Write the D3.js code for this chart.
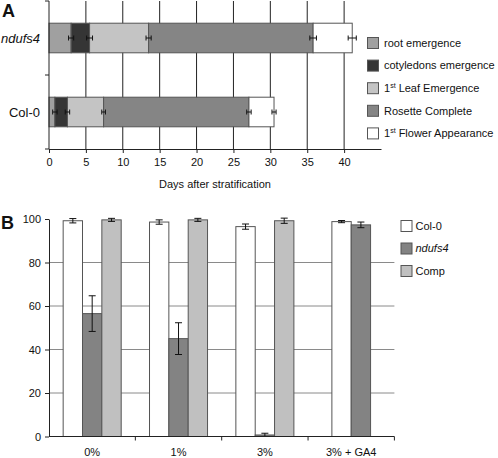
<!DOCTYPE html>
<html><head><meta charset="utf-8">
<script src="https://cdn.jsdelivr.net/npm/d3@7"></script>
<style>
body{margin:0;background:#fff;}
text{font-family:"Liberation Sans",Arial,sans-serif;fill:#111;}
</style></head>
<body>
<svg id="c" width="498" height="458"></svg>
<script>
// ---------- Panel A data ----------
const genotypesA = ["ndufs4", "Col-0"];
const stagesA = ["root emergence", "cotyledons emergence", "1st Leaf Emergence", "Rosette Complete", "1st Flower Appearance"];
const stageColors = ["#a0a0a0", "#353535", "#c4c4c4", "#858585", "#ffffff"];
// cumulative days at end of each stage
const ndufs4Days = [3.0, 5.5, 13.5, 35.8, 41.1];
const col0Days = [0.8, 2.5, 7.4, 27.1, 30.5];
const ndufs4Err = [0.35, 0.4, 0.35, 0.45, 0.55];
const col0Err = [0.3, 0.3, 0.25, 0.3, 0.28];
const daysTicks = [0, 5, 10, 15, 20, 25, 30, 35, 40];

// ---------- Panel B data ----------
const conditionsB = ["0%", "1%", "3%", "3% + GA4"];
const seriesB = ["Col-0", "ndufs4", "Comp"];
const seriesColors = ["#ffffff", "#838383", "#c0c0c0"];
const col0Pct = [99.2, 98.6, 96.5, 98.8];
const ndufs4Pct = [56.5, 45.0, 0.7, 97.3];
const compPct = [99.6, 99.6, 99.2, null];
const col0PctErr = [1.0, 1.0, 1.2, 0.5];
const ndufs4PctErr = [8.2, 7.3, 0.8, 1.3];
const compPctErr = [0.7, 0.7, 1.2, null];
const pctTicks = [0, 20, 40, 60, 80, 100];

const svg = d3.select("#c");

// ================= Panel A =================
const gA = svg.append("g");
const xA = d3.scaleLinear().domain([0, 45]).range([49, 381]);
const yA = d3.scalePoint().domain(genotypesA).range([1, 149]).padding(0.5);
const stepA = yA.step();
const barH = stepA * 0.4;

// gridlines
gA.selectAll("line.vg").data(daysTicks.filter(d => d > 0)).join("line")
  .attr("x1", d => xA(d)).attr("x2", d => xA(d))
  .attr("y1", 1).attr("y2", 149)
  .attr("stroke", "#222").attr("stroke-width", 1);

const rowsA = [
  {g: "ndufs4", days: ndufs4Days, err: ndufs4Err},
  {g: "Col-0", days: col0Days, err: col0Err}
];
rowsA.forEach(r => {
  const segs = r.days.map((d, i) => ({start: i === 0 ? 0 : r.days[i - 1], end: d, i, err: r.err[i]}));
  const y0 = yA(r.g) - barH / 2;
  gA.selectAll(null).data(segs).join("rect")
    .attr("x", d => xA(d.start)).attr("width", d => xA(d.end) - xA(d.start))
    .attr("y", y0).attr("height", barH)
    .attr("fill", d => stageColors[d.i]).attr("stroke", "#555").attr("stroke-width", 1);
  const yc = yA(r.g);
  const eb = gA.selectAll(null).data(segs).join("g");
  eb.append("line").attr("x1", d => xA(d.end - d.err)).attr("x2", d => xA(d.end + d.err))
    .attr("y1", yc).attr("y2", yc).attr("stroke", "#111");
  eb.append("line").attr("x1", d => xA(d.end - d.err)).attr("x2", d => xA(d.end - d.err))
    .attr("y1", yc - 2.5).attr("y2", yc + 2.5).attr("stroke", "#111");
  eb.append("line").attr("x1", d => xA(d.end + d.err)).attr("x2", d => xA(d.end + d.err))
    .attr("y1", yc - 2.5).attr("y2", yc + 2.5).attr("stroke", "#111");
});

// x axis
const axA = gA.append("g").attr("transform", "translate(0,149)")
  .call(d3.axisBottom(xA).tickValues(daysTicks).tickSize(4).tickSizeOuter(0));
axA.select(".domain").attr("stroke", "#222");
axA.selectAll(".tick line").attr("stroke", "#222");
axA.selectAll(".tick text").attr("font-size", 11).attr("dy", "0.9em").attr("fill", "#111")
  .style("font-family", "Liberation Sans, Arial, sans-serif");
// y axis
gA.append("line").attr("x1", 49).attr("x2", 49).attr("y1", 1).attr("y2", 149).attr("stroke", "#222");
[1, 1 + stepA, 149].forEach(v => gA.append("line").attr("x1", 45).attr("x2", 49).attr("y1", v).attr("y2", v).attr("stroke", "#222"));
gA.selectAll("text.gl").data(genotypesA).join("text")
  .attr("x", 40).attr("y", d => yA(d)).attr("dy", "0.35em").attr("text-anchor", "end")
  .attr("font-size", 13).attr("font-style", d => d === "ndufs4" ? "italic" : "normal").text(d => d);

gA.append("text").attr("x", xA(22.5)).attr("y", 188).attr("text-anchor", "middle").attr("font-size", 11)
  .text("Days after stratification");
svg.append("text").attr("x", 2).attr("y", 17).attr("font-size", 18).attr("font-weight", "bold").text("A");

// legend A
const legA = gA.append("g");
stagesA.forEach((s, i) => {
  const yy = 43 + i * 22.6;
  legA.append("rect").attr("x", 367.5).attr("y", yy - 5.5).attr("width", 11).attr("height", 11)
    .attr("fill", stageColors[i]).attr("stroke", "#555");
  const t = legA.append("text").attr("x", 384).attr("y", yy).attr("dy", "0.35em").attr("font-size", 11);
  if (s.startsWith("1st")) {
    t.append("tspan").text("1");
    t.append("tspan").attr("font-size", 7).attr("dy", "-0.6em").text("st");
    t.append("tspan").attr("dy", "0.4em").text(s.slice(3));
  } else t.text(s);
});

// ================= Panel B =================
const gB = svg.append("g");
const yB = d3.scaleLinear().domain([0, 100]).range([436.5, 219]);
const xB = d3.scaleBand().domain(conditionsB).range([49, 394.4]).padding(0);
const groupW = xB.bandwidth() * 0.672;

gB.selectAll("line.hg").data(pctTicks.filter(d => d > 0 && d < 100)).join("line")
  .attr("x1", 49).attr("x2", 394.4).attr("y1", d => yB(d)).attr("y2", d => yB(d))
  .attr("stroke", "#8a8a8a");

const valsB = [col0Pct, ndufs4Pct, compPct];
const errsB = [col0PctErr, ndufs4PctErr, compPctErr];
conditionsB.forEach((c, ci) => {
  const present = seriesB.filter((s, si) => valsB[si][ci] != null);
  const w = groupW * present.length / seriesB.length;
  const x1 = d3.scaleBand().domain(present).range([xB(c) + (xB.bandwidth() - w) / 2, xB(c) + (xB.bandwidth() + w) / 2]);
  present.forEach(s => {
    const si = seriesB.indexOf(s);
    const v = valsB[si][ci], e = errsB[si][ci];
    gB.append("rect").attr("x", x1(s)).attr("width", x1.bandwidth())
      .attr("y", yB(v)).attr("height", yB(0) - yB(v))
      .attr("fill", seriesColors[si]).attr("stroke", "#555");
    const cx = x1(s) + x1.bandwidth() / 2;
    gB.append("line").attr("x1", cx).attr("x2", cx).attr("y1", yB(v + e)).attr("y2", yB(Math.max(0, v - e))).attr("stroke", "#111");
    [v + e, Math.max(0, v - e)].forEach(t => gB.append("line").attr("x1", cx - 3.5).attr("x2", cx + 3.5)
      .attr("y1", yB(t)).attr("y2", yB(t)).attr("stroke", "#111"));
  });
});

// axes B
const ayB = gB.append("g").attr("transform", "translate(49,0)")
  .call(d3.axisLeft(yB).tickValues(pctTicks).tickSize(4).tickSizeOuter(0));
ayB.select(".domain").attr("stroke", "#222");
ayB.selectAll(".tick line").attr("stroke", "#222");
ayB.selectAll(".tick text").attr("font-size", 11).attr("fill", "#111").attr("x", -8)
  .style("font-family", "Liberation Sans, Arial, sans-serif");
gB.append("line").attr("x1", 49).attr("x2", 394.4).attr("y1", yB(0)).attr("y2", yB(0)).attr("stroke", "#222");
xB.domain().forEach((c, i) => {
  const xx = xB(c) + xB.bandwidth();
  gB.append("line").attr("x1", xx).attr("x2", xx).attr("y1", yB(0)).attr("y2", yB(0) + 4).attr("stroke", "#222");
});
gB.selectAll("text.xl").data(conditionsB).join("text")
  .attr("x", d => xB(d) + xB.bandwidth() / 2).attr("y", 452).attr("dy", "0.35em")
  .attr("text-anchor", "middle").attr("font-size", 11).text(d => d);
svg.append("text").attr("x", 1).attr("y", 229).attr("font-size", 18).attr("font-weight", "bold").text("B");

// legend B
seriesB.forEach((s, i) => {
  const yy = 226 + i * 22.5;
  gB.append("rect").attr("x", 401).attr("y", yy - 5.5).attr("width", 11).attr("height", 11)
    .attr("fill", seriesColors[i]).attr("stroke", "#555");
  gB.append("text").attr("x", 415.5).attr("y", yy).attr("dy", "0.35em").attr("font-size", 11)
    .attr("font-style", s === "ndufs4" ? "italic" : "normal").text(s);
});
</script>
</body></html>
